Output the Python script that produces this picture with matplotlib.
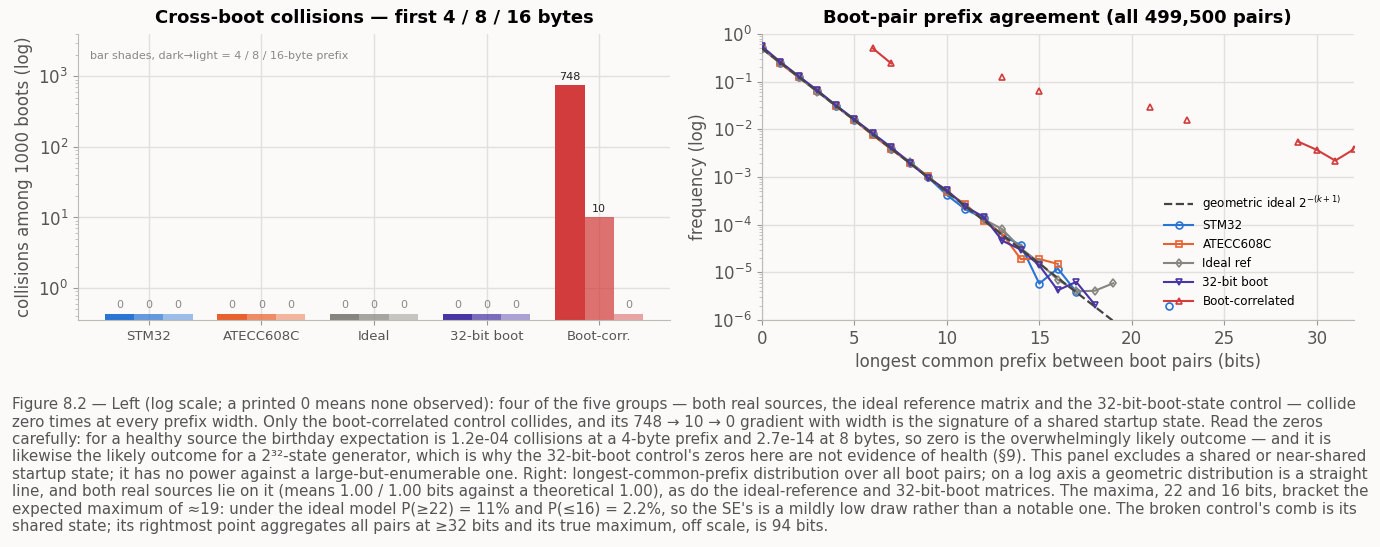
"""
Figure 8.2: cross-boot collisions and boot-pair prefix agreement
"""
import numpy as np
import matplotlib
matplotlib.use('Agg')
from matplotlib import pyplot as plt

# --- left panel data -------------------------------------------------------
groups = ['STM32', 'ATECC608C', 'Ideal', '32-bit boot', 'Boot-corr.']
prefix_bytes = [4, 8, 16]
coll_4 = [0, 0, 0, 0, 748]
coll_8 = [0, 0, 0, 0, 10]
coll_16 = [0, 0, 0, 0, 0]

# --- right panel data (nan = no pair observed) ------------------------------
k_bits = np.arange(0, 33)
nan = np.nan
ideal_geo = [0.5, 0.25, 0.125, 0.0625, 0.03125, 0.015625, 0.0078125, 0.00390625,
             0.001953125, 0.0009765625, 0.00048828125, 0.000244140625,
             0.0001220703125, 6.103515625e-05, 3.0517578125e-05, 1.52587890625e-05,
             7.62939453125e-06, 3.814697265625e-06, 1.9073486328125e-06,
             9.5367431640625e-07]
stm32 = [0.50, 0.25, 0.125, 0.0625, 0.031, 0.0156, 0.0079, 0.0039, 0.00196, 0.00098,
         0.00042, 0.00021, 0.000135, 0.00006, 0.000037, 0.0000058, 0.000012, 0.0000039,
         nan, nan, nan, nan, 0.000002]
atecc = [0.50, 0.24, 0.122, 0.063, 0.031, 0.0155, 0.0075, 0.0038, 0.00199, 0.00103,
         0.00048, 0.00027, 0.00012, 0.000064, 0.000019, 0.000019, 0.000015]
ideal_ref = [0.50, 0.25, 0.125, 0.0615, 0.0315, 0.0157, 0.0079, 0.0040, 0.0021, 0.00098,
             0.00051, 0.00025, 0.00013, 0.00008, 0.000032, 0.000016, 0.000007, 0.000004,
             0.0000041, 0.0000059]
boot32 = [0.55, 0.26, 0.13, 0.066, 0.032, 0.0163, 0.0082, 0.0042, 0.00197, 0.00095,
          0.00053, 0.00024, 0.000145, 0.000046, 0.00003, 0.000014, 0.0000042, 0.0000063,
          0.0000021]
bootcorr = [nan, nan, nan, nan, nan, nan, 0.50, 0.24, nan, nan, nan, nan, nan, 0.123, nan,
            0.062, nan, nan, nan, nan, nan, 0.030, nan, 0.0155, nan, nan, nan, nan, nan,
            0.0055, 0.0037, 0.0022, 0.0038]

caption = (
    "Figure 8.2 \u2014 Left (log scale; a printed 0 means none observed): four of the five groups \u2014 both real sources, the ideal reference matrix and the 32-bit-boot-state control \u2014 collide\n"
    "zero times at every prefix width. Only the boot-correlated control collides, and its 748 \u2192 10 \u2192 0 gradient with width is the signature of a shared startup state. Read the zeros\n"
    "carefully: for a healthy source the birthday expectation is 1.2e-04 collisions at a 4-byte prefix and 2.7e-14 at 8 bytes, so zero is the overwhelmingly likely outcome \u2014 and it is\n"
    "likewise the likely outcome for a 2\u00b3\u00b2-state generator, which is why the 32-bit-boot control's zeros here are not evidence of health (\u00a79). This panel excludes a shared or near-shared\n"
    "startup state; it has no power against a large-but-enumerable one. Right: longest-common-prefix distribution over all boot pairs; on a log axis a geometric distribution is a straight\n"
    "line, and both real sources lie on it (means 1.00 / 1.00 bits against a theoretical 1.00), as do the ideal-reference and 32-bit-boot matrices. The maxima, 22 and 16 bits, bracket the\n"
    "expected maximum of \u224819: under the ideal model P(\u226522) = 11% and P(\u226416) = 2.2%, so the SE's is a mildly low draw rather than a notable one. The broken control's comb is its\n"
    "shared state; its rightmost point aggregates all pairs at \u226532 bits and its true maximum, off scale, is 94 bits."
)

BG = '#fbfaf8'
GRID = '#e2e0dc'
TXT = '#555555'
colors = ['#2a74d4', '#e8622f', '#86857f', '#4a35a5', '#d23c3c']
shade_alpha = [1.0, 0.72, 0.45]
ZERO_H = 0.43


def style_ax(ax):
    ax.set_facecolor(BG)
    for s in ['top', 'right']:
        ax.spines[s].set_visible(False)
    for s in ['left', 'bottom']:
        ax.spines[s].set_color('#bdbbb6')
    ax.grid(True, color=GRID, lw=1.0, which='major')
    ax.set_axisbelow(True)
    ax.tick_params(colors=TXT, which='both')
    ax.tick_params(axis='both', which='major', labelsize=12, color='#999999')
    ax.tick_params(axis='both', which='minor', color='#bbbbbb')


fig = plt.figure(figsize=(13.8, 5.47), dpi=100, facecolor=BG)
ax1 = fig.add_axes([0.0565, 0.415, 0.429, 0.523])
ax2 = fig.add_axes([0.552, 0.415, 0.429, 0.523])
style_ax(ax1)
style_ax(ax2)

# left: grouped bars
x = np.arange(len(groups))
w = 0.26
series = [coll_4, coll_8, coll_16]
for j, vals in enumerate(series):
    off = (j - 1) * w
    for i, v in enumerate(vals):
        h = v if v > 0 else ZERO_H
        ax1.bar(x[i] + off, h, width=w, color=colors[i], alpha=shade_alpha[j], lw=0)
        if v > 0:
            ax1.text(x[i] + off, v * 1.12, f'{v}', ha='center', va='bottom', fontsize=8, color='#222222')
        else:
            ax1.text(x[i] + off, ZERO_H * 1.15, '0', ha='center', va='bottom', fontsize=8, color='#888888')
ax1.set_yscale('log')
ax1.set_ylim(0.352, 4000)
ax1.set_xticks(x)
ax1.set_xticklabels(groups, fontsize=9.5)
ax1.set_ylabel('collisions among 1000 boots (log)', fontsize=12, color=TXT)
ax1.set_title('Cross-boot collisions \u2014 first 4 / 8 / 16 bytes', fontsize=13, fontweight='bold', pad=8)
ax1.text(0.02, 0.94, 'bar shades, dark\u2192light = 4 / 8 / 16-byte prefix', transform=ax1.transAxes,
         fontsize=8, color='#888888', va='top')

# right: prefix agreement
ax2.plot(k_bits[:len(ideal_geo)], ideal_geo, ls='--', color='#444444', lw=1.6,
         label='geometric ideal $2^{-(k+1)}$', zorder=5)
line_sets = [(stm32, 'STM32', 'o'), (atecc, 'ATECC608C', 's'), (ideal_ref, 'Ideal ref', 'd'),
             (boot32, '32-bit boot', 'v'), (bootcorr, 'Boot-correlated', '^')]
for i, (vals, lab, mk) in enumerate(line_sets):
    ax2.plot(k_bits[:len(vals)], vals, color=colors[i], marker=mk, ms=5 if mk != 'd' else 4.5,
             mfc='none', mew=1.2, lw=1.5, label=lab, zorder=3)
ax2.set_yscale('log')
ax2.set_ylim(1e-6, 1)
ax2.set_xlim(0, 32)
ax2.set_xlabel('longest common prefix between boot pairs (bits)', fontsize=12, color=TXT)
ax2.set_ylabel('frequency (log)', fontsize=12, color=TXT)
ax2.set_title('Boot-pair prefix agreement (all 499,500 pairs)', fontsize=13, fontweight='bold', pad=8)
ax2.legend(loc='lower right', frameon=False, fontsize=8.6, borderaxespad=0.6, handlelength=2.4)

fig.text(0.0087, 0.274, caption, fontsize=10.9, color=TXT, va='top', ha='left', linespacing=1.2)

fig.savefig('out.png', dpi=100, facecolor=BG)
